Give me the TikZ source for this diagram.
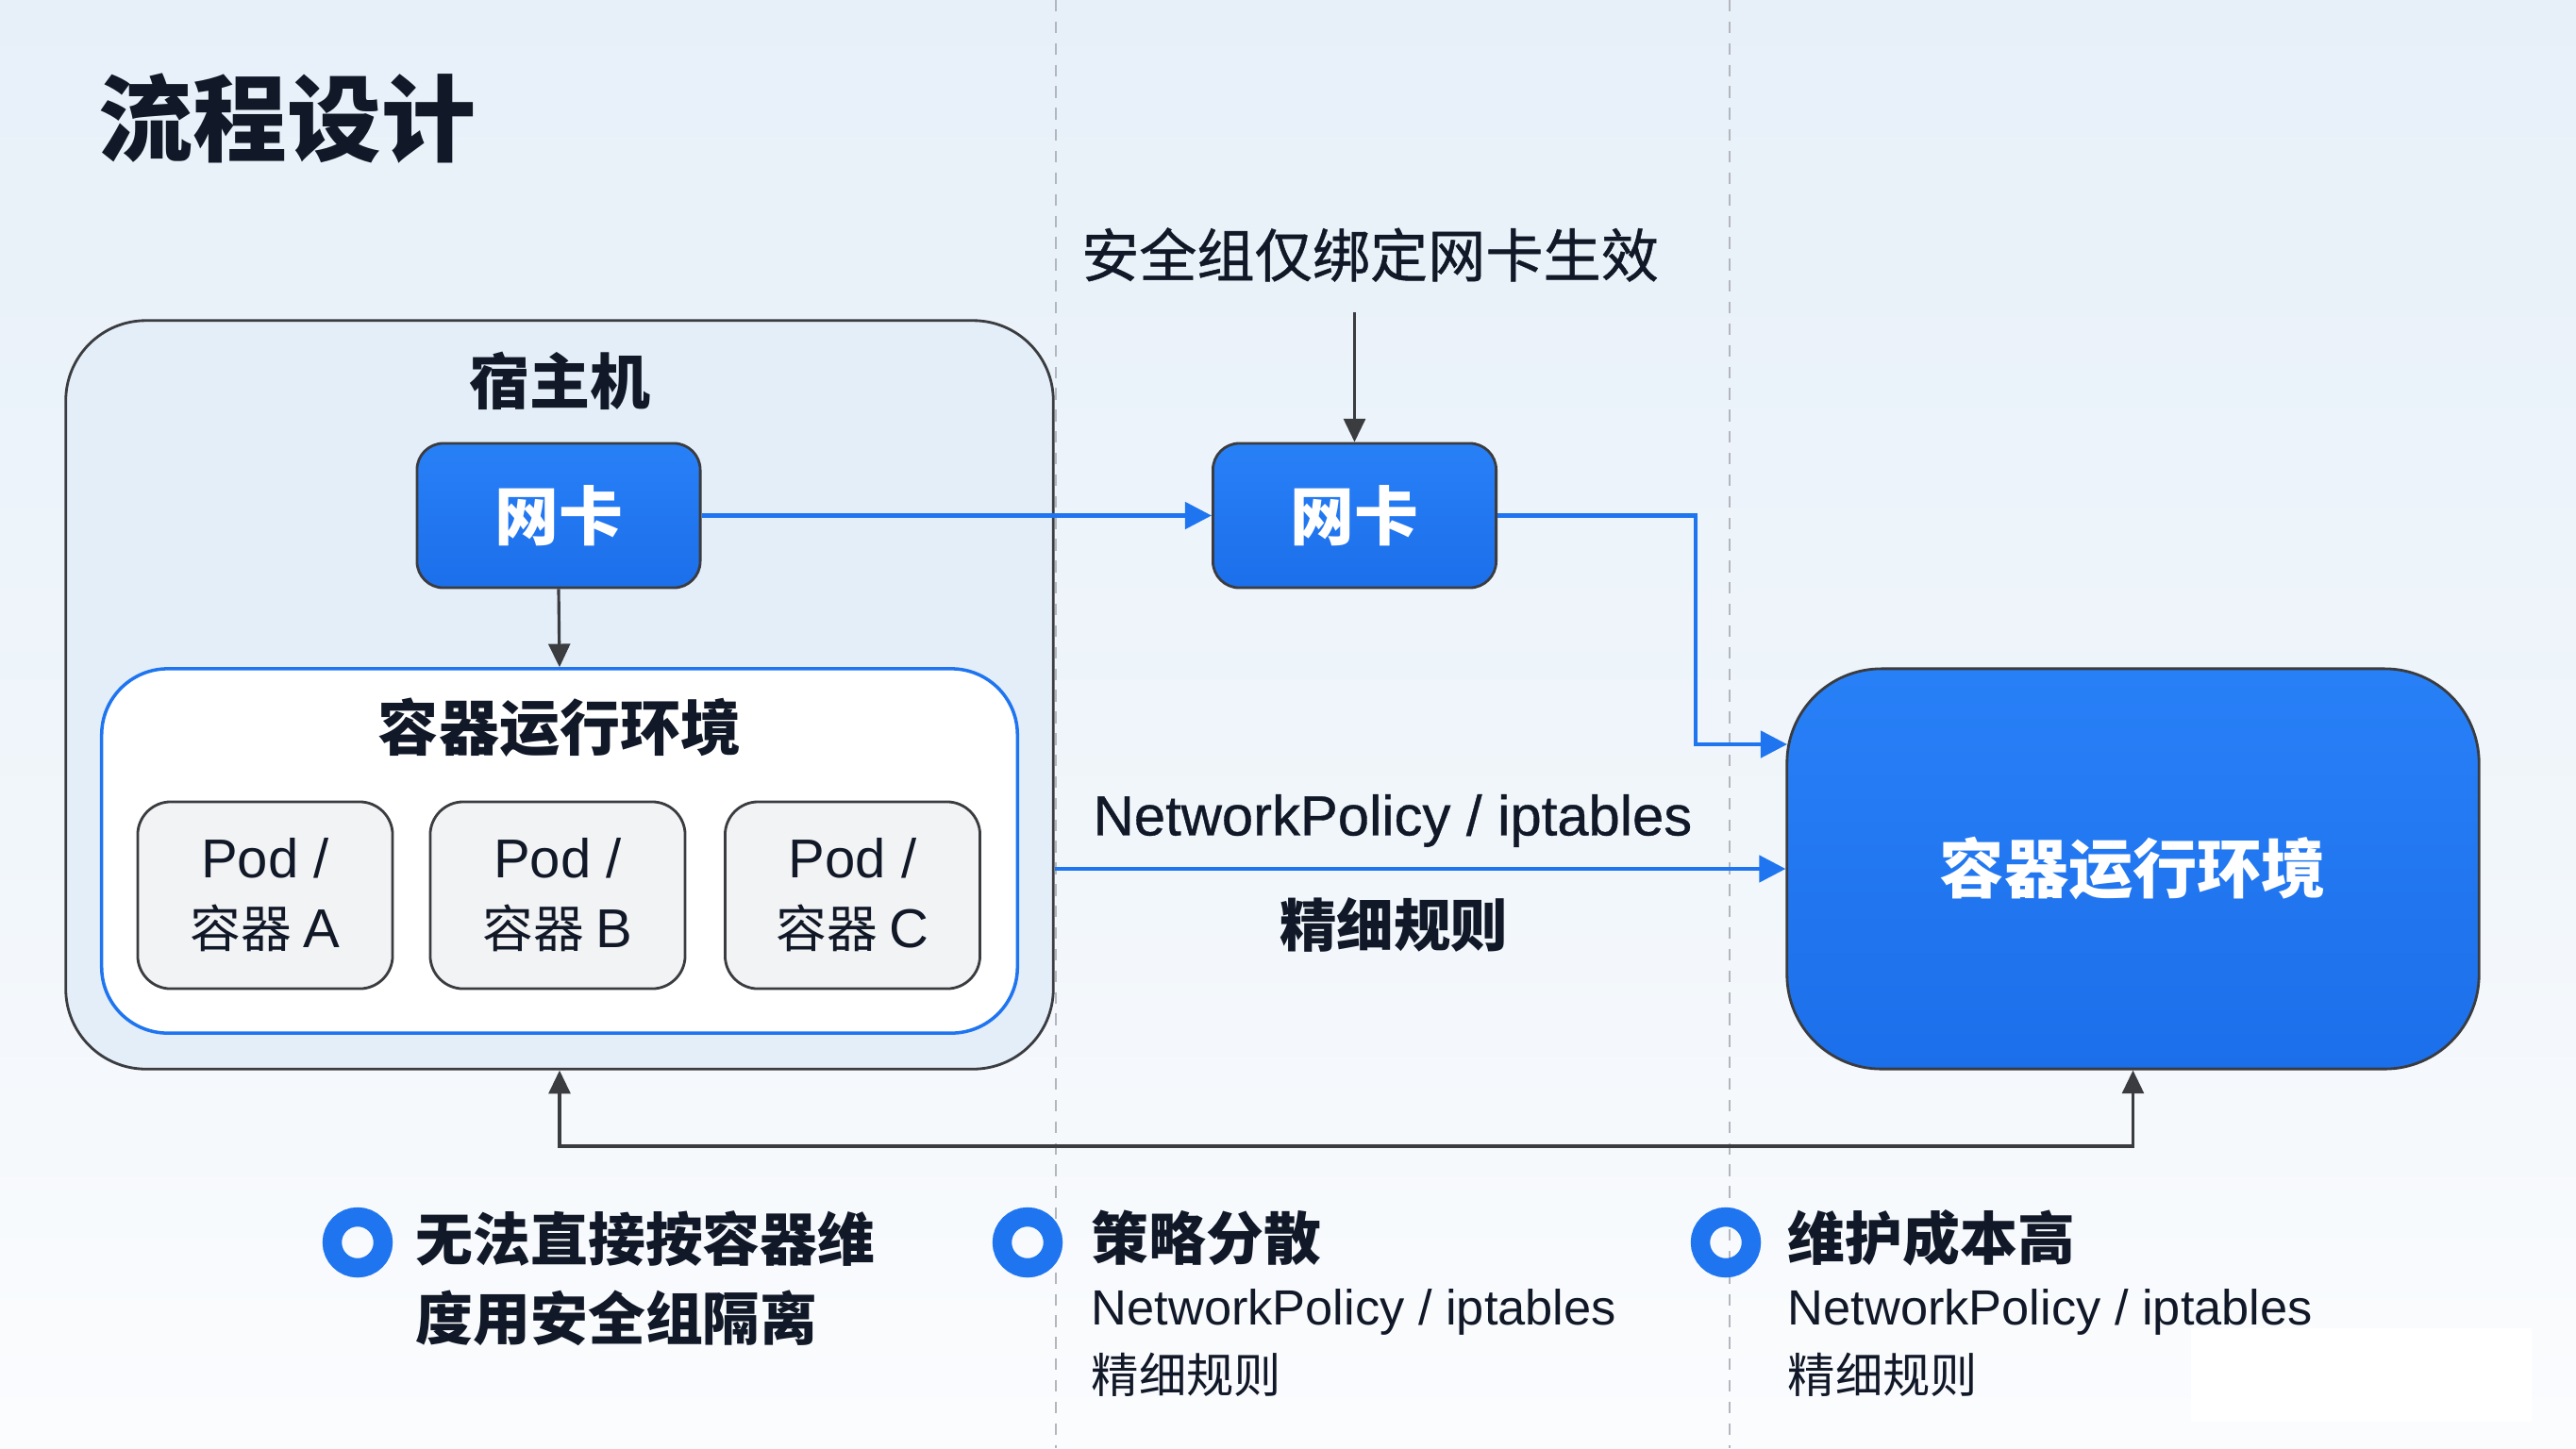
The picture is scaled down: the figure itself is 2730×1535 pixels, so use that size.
\documentclass[tikz,border=0pt]{standalone}
\usepackage{fontspec}
\setmainfont{Noto Sans CJK SC}
\newfontfamily\latf{Liberation Sans}
\newfontfamily\latmed{Liberation Sans}[FakeBold=0.6]
\newfontfamily\cjkmed{Noto Sans CJK SC}[FakeBold=0.8]
\newcommand\Lpod[1]{{\latf\fontsize{16.5}{21}\selectfont #1}}
\usetikzlibrary{arrows.meta,calc}
\definecolor{bgtop}{HTML}{E7F0F9}
\definecolor{bgmid}{HTML}{EFF5FA}
\definecolor{bgbot}{HTML}{FBFCFE}
\definecolor{hostfill}{HTML}{E4EEF9}
\definecolor{blueA}{HTML}{1F75F0}
\definecolor{blueTop}{HTML}{2880F7}
\definecolor{blueBot}{HTML}{1C6FEA}
\definecolor{bord}{HTML}{3A3C40}
\definecolor{ink}{HTML}{111827}
\definecolor{podfill}{HTML}{F2F3F4}
\definecolor{dashc}{HTML}{B3B7BD}
\tikzset{
  hostbox/.style={draw=bord, line width=0.8pt, fill=hostfill, rounded corners=0.85cm,
    minimum width=10.46cm, minimum height=7.93cm},
  envbox/.style={draw=blueA, line width=1pt, fill=white, rounded corners=0.7cm,
    minimum width=9.70cm, minimum height=3.86cm},
  nicbox/.style={draw=bord, line width=0.8pt, top color=blueTop, bottom color=blueBot,
    rounded corners=0.28cm, minimum width=3.0cm, minimum height=1.53cm,
    text=white, font=\bfseries\fontsize{19.3}{23}\selectfont},
  bigbox/.style={draw=bord, line width=0.8pt, top color=blueTop, bottom color=blueBot,
    rounded corners=1.0cm, minimum width=7.33cm, minimum height=4.24cm,
    text=white, font=\bfseries\fontsize{19.4}{23}\selectfont},
  podbox/.style={draw=bord, line width=0.8pt, fill=podfill, rounded corners=0.35cm,
    minimum width=2.7cm, minimum height=1.98cm, align=center, text=ink,
    font=\fontsize{15.3}{21}\selectfont},
  lbl/.style={text=ink, inner sep=0pt},
  flow/.style={draw=blueA, line width=1.3pt, -{Triangle[length=8pt,width=8pt]}},
  gflow/.style={draw=bord, line width=0.9pt, -{Triangle[length=7pt,width=6.5pt]}},
  gdash/.style={draw=dashc, line width=0.6pt, dash pattern=on 3.5pt off 3pt},
  ring/.style={draw=blueA, line width=5.8pt, circle, minimum size=0.54cm, inner sep=0pt},
}
\begin{document}
\begin{tikzpicture}[x=0.01cm, y=-0.01cm]
\useasboundingbox (0,0) rectangle (2730,1535);
\shade[top color=bgtop, bottom color=bgbot, middle color=bgmid] (0,0) rectangle (2730,1535);
% dashed separators
\coordinate (d1t) at (1119,0); \coordinate (d1b) at (1119,1535);
\coordinate (d2t) at (1833,0); \coordinate (d2b) at (1833,1535);
\draw[gdash] (d1t) -- (d1b);
\draw[gdash] (d2t) -- (d2b);

% title
\node[lbl, anchor=west, font=\bfseries\fontsize{28.4}{34}\selectfont] (title) at (104,126) {流程设计};

% host
\node[hostbox] (host) at (593,736.5) {};
\node[lbl, font=\bfseries\fontsize{18.2}{22}\selectfont] (hostlbl) at (593,404) {宿主机};
\node[nicbox] (nicL) at (592,546.5) {网卡};
\node[envbox] (env) at (593,902) {};
\node[lbl, font=\bfseries\fontsize{18.2}{22}\selectfont] (envlbl) at (593,771) {容器运行环境};
\node[podbox] (podA) at (281,949) {\Lpod{Pod /}\\容器 \Lpod{A}};
\node[podbox] (podB) at (591,949) {\Lpod{Pod /}\\容器 \Lpod{B}};
\node[podbox] (podC) at (903.5,949) {\Lpod{Pod /}\\容器 \Lpod{C}};
\draw[gflow] (nicL.south) -- (env.north);

% middle
\node[lbl, font=\cjkmed\fontsize{17.4}{21}\selectfont] (sg) at (1452,270) {安全组仅绑定网卡生效};
\node[nicbox] (nicC) at (1435.5,546.5) {网卡};
\coordinate (sgend) at (1435.5,331);
\draw[gflow] (sgend) -- (nicC.north);
\draw[flow] (nicL.east) -- (nicC.west);

% right big box
\node[bigbox] (big) at (2260.5,921) {容器运行环境};
\coordinate (bend) at (1797,546.5);
\coordinate (bin) at (1894,789);
\draw[flow] (nicC.east) -- (bend) -- (bend |- bin) -- (bin);
\draw[flow] (host.east |- big.west) -- (big.west);
\node[lbl, font=\latmed\fontsize{17}{21}\selectfont] (np) at (1476,870) {NetworkPolicy / iptables};
\node[lbl, font=\bfseries\fontsize{17.2}{21}\selectfont] (fr) at (1477,980) {精细规则};

% feedback
\coordinate (fbL) at (593,1215);
\coordinate (fbR) at (2260.5,1215);
\draw[draw=bord, line width=0.9pt, {Triangle[length=7pt,width=6.5pt]}-{Triangle[length=7pt,width=6.5pt]}]
  (host.south) -- (fbL) -- (fbR) -- (big.south);

% bullets
\node[ring] (r1) at (379,1317) {};
\node[ring] (r2) at (1089,1317) {};
\node[ring] (r3) at (1829,1317) {};
\node[lbl, anchor=west, align=left, font=\bfseries\fontsize{17.3}{23.9}\selectfont] (b1) at (440,1355) {无法直接按容器维\\度用安全组隔离};
\node[lbl, anchor=west, font=\bfseries\fontsize{17.3}{21}\selectfont] (b2) at (1156,1312) {策略分散};
\node[lbl, anchor=west, font=\latf\fontsize{14.9}{18}\selectfont] (b2a) at (1156,1391) {NetworkPolicy / iptables};
\node[lbl, anchor=west, font=\fontsize{14.3}{18}\selectfont] (b2b) at (1156,1457) {精细规则};
\node[lbl, anchor=west, font=\bfseries\fontsize{17.3}{21}\selectfont] (b3) at (1894,1312) {维护成本高};
\node[lbl, anchor=west, font=\latf\fontsize{14.9}{18}\selectfont] (b3a) at (1894,1391) {NetworkPolicy / iptables};
\node[lbl, anchor=west, font=\fontsize{14.3}{18}\selectfont] (b3b) at (1894,1457) {精细规则};

% white patch bottom right
\fill[white] (2322,1408) rectangle (2683,1507);
\end{tikzpicture}
\end{document}
